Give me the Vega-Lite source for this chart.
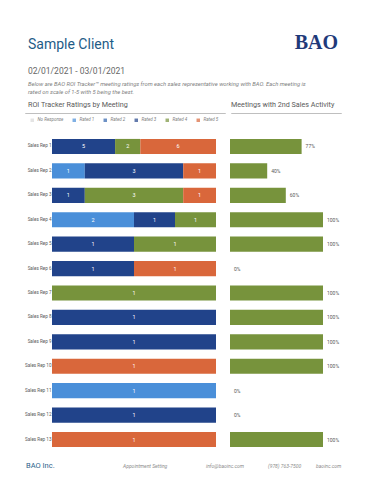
{
  "$schema": "https://vega.github.io/schema/vega-lite/v6.json",
  "background": "white",
  "padding": {"left": 24, "top": 32, "right": 10, "bottom": 2},
  "config": {
    "font": "Roboto",
    "view": {"stroke": null},
    "title": {"fontWeight": "normal", "anchor": "start", "frame": "group"}
  },
  "datasets": {
    "ratings": [
      {"rep": "Sales Rep 1", "rating": "Rated 3", "count": 5},
      {"rep": "Sales Rep 1", "rating": "Rated 4", "count": 2},
      {"rep": "Sales Rep 1", "rating": "Rated 5", "count": 6},
      {"rep": "Sales Rep 2", "rating": "Rated 1", "count": 1},
      {"rep": "Sales Rep 2", "rating": "Rated 3", "count": 3},
      {"rep": "Sales Rep 2", "rating": "Rated 5", "count": 1},
      {"rep": "Sales Rep 3", "rating": "Rated 3", "count": 1},
      {"rep": "Sales Rep 3", "rating": "Rated 4", "count": 3},
      {"rep": "Sales Rep 3", "rating": "Rated 5", "count": 1},
      {"rep": "Sales Rep 4", "rating": "Rated 1", "count": 2},
      {"rep": "Sales Rep 4", "rating": "Rated 3", "count": 1},
      {"rep": "Sales Rep 4", "rating": "Rated 4", "count": 1},
      {"rep": "Sales Rep 5", "rating": "Rated 3", "count": 1},
      {"rep": "Sales Rep 5", "rating": "Rated 4", "count": 1},
      {"rep": "Sales Rep 6", "rating": "Rated 3", "count": 1},
      {"rep": "Sales Rep 6", "rating": "Rated 5", "count": 1},
      {"rep": "Sales Rep 7", "rating": "Rated 4", "count": 1},
      {"rep": "Sales Rep 8", "rating": "Rated 3", "count": 1},
      {"rep": "Sales Rep 9", "rating": "Rated 3", "count": 1},
      {"rep": "Sales Rep 10", "rating": "Rated 5", "count": 1},
      {"rep": "Sales Rep 11", "rating": "Rated 1", "count": 1},
      {"rep": "Sales Rep 12", "rating": "Rated 3", "count": 1},
      {"rep": "Sales Rep 13", "rating": "Rated 5", "count": 1}
    ],
    "activity": [
      {"rep": "Sales Rep 1", "pct": 0.77},
      {"rep": "Sales Rep 2", "pct": 0.40},
      {"rep": "Sales Rep 3", "pct": 0.60},
      {"rep": "Sales Rep 4", "pct": 1.0},
      {"rep": "Sales Rep 5", "pct": 1.0},
      {"rep": "Sales Rep 6", "pct": 0.0},
      {"rep": "Sales Rep 7", "pct": 1.0},
      {"rep": "Sales Rep 8", "pct": 1.0},
      {"rep": "Sales Rep 9", "pct": 1.0},
      {"rep": "Sales Rep 10", "pct": 1.0},
      {"rep": "Sales Rep 11", "pct": 0.0},
      {"rep": "Sales Rep 12", "pct": 0.0},
      {"rep": "Sales Rep 13", "pct": 1.0}
    ]
  },
  "spacing": 0,
  "resolve": {"scale": {"color": "independent"}, "legend": {"color": "independent"}},
  "vconcat": [
    {
      "spacing": 3,
      "hconcat": [
        {
          "width": 260, "height": 0.01,
          "data": {"values": []},
          "mark": "text",
          "title": {
            "text": "Sample Client",
            "subtitle": "02/01/2021 - 03/01/2021",
            "fontSize": 14, "color": "#1f5c87", "dx": 3,
            "subtitleFontSize": 8.5, "subtitleColor": "#666666", "subtitlePadding": 15,
            "offset": 4.5
          }
        },
        {
          "width": 50, "height": 0.01,
          "data": {"values": []},
          "mark": "text",
          "title": {
            "text": "BAO", "anchor": "end", "offset": 27.1,
            "font": "Liberation Serif", "fontWeight": "bold", "fontSize": 20, "color": "#1f3a7a"
          }
        }
      ]
    },
    {
      "width": 314, "height": 0.01,
      "data": {"values": []},
      "mark": "text",
      "title": {
        "text": [
          "Below are BAO ROI Tracker\u2122 meeting ratings from each sales representative working with BAO. Each meeting is",
          "rated on scale of 1-5 with 5 being the best."
        ],
        "fontSize": 5.8, "fontStyle": "italic", "color": "#808080", "lineHeight": 8, "dx": 3, "offset": 4.0
      }
    },
    {
      "spacing": 4,
      "resolve": {"scale": {"color": "independent"}, "legend": {"color": "independent"}},
      "hconcat": [
        {
          "width": 200, "height": 0.01,
          "view": {"stroke": "#bfbfbf"},
          "data": {"values": []},
          "mark": "square",
          "encoding": {
            "color": {
              "field": "rating", "type": "nominal",
              "scale": {
                "domain": ["No Response", "Rated 1", "Rated 2", "Rated 3", "Rated 4", "Rated 5"],
                "range": ["#d9d9d9", "#4a8fd9", "#2f63ad", "#21438a", "#77933c", "#d9673b"]
              },
              "legend": {
                "orient": "bottom", "direction": "horizontal", "title": null,
                "symbolType": "square", "symbolSize": 12, "symbolStrokeWidth": 0,
                "labelFontSize": 4.5, "labelFontStyle": "italic", "labelColor": "#808080",
                "labelOffset": 3, "columnPadding": 8, "padding": 5, "offset": -1
              }
            }
          },
          "title": {"text": "ROI Tracker Ratings by Meeting", "fontSize": 7.2, "color": "#595959", "dx": 3, "offset": 4.9}
        },
        {
          "width": 110, "height": 0.01,
          "view": {"stroke": "#bfbfbf"},
          "data": {"values": []},
          "mark": "text",
          "title": {"text": "Meetings with 2nd Sales Activity", "fontSize": 7.2, "color": "#595959", "offset": 4.9}
        }
      ]
    },
    {
      "spacing": 14,
      "hconcat": [
        {
          "width": 191, "height": 330,
          "data": {"name": "ratings"},
          "transform": [
            {"stack": "count", "groupby": ["rep"], "sort": [{"field": "rating", "order": "ascending"}], "offset": "normalize", "as": ["x0", "x1"]}
          ],
          "encoding": {
            "y": {
              "field": "rep", "type": "nominal",
              "sort": ["Sales Rep 1", "Sales Rep 2", "Sales Rep 3", "Sales Rep 4", "Sales Rep 5", "Sales Rep 6", "Sales Rep 7", "Sales Rep 8", "Sales Rep 9", "Sales Rep 10", "Sales Rep 11", "Sales Rep 12", "Sales Rep 13"],
              "scale": {"paddingInner": 0.38, "paddingOuter": 0.447},
              "axis": {"title": null, "domain": false, "ticks": false, "labelFontSize": 4.6, "labelColor": "#595959", "labelPadding": -26}
            }
          },
          "layer": [
            {
              "mark": {"type": "bar"},
              "encoding": {
                "x": {"field": "x0", "type": "quantitative", "axis": null, "scale": {"domain": [0, 1], "range": [27, 191]}},
                "x2": {"field": "x1"},
                "color": {
                  "field": "rating", "type": "nominal",
                  "scale": {
                    "domain": ["No Response", "Rated 1", "Rated 2", "Rated 3", "Rated 4", "Rated 5"],
                    "range": ["#d9d9d9", "#4a8fd9", "#2f63ad", "#21438a", "#77933c", "#d9673b"]
                  },
                  "legend": null
                }
              }
            },
            {
              "transform": [{"fold": ["x0", "x1"], "as": ["edge", "xpos"]}],
              "mark": {"type": "text", "color": "white", "fontSize": 5.5},
              "encoding": {
                "x": {"field": "xpos", "aggregate": "mean", "type": "quantitative", "axis": null, "scale": {"domain": [0, 1], "range": [27, 191]}},
                "detail": {"field": "rating", "type": "nominal"},
                "text": {"field": "count", "type": "quantitative"}
              }
            }
          ]
        },
        {
          "width": 93, "height": 330,
          "data": {"name": "activity"},
          "encoding": {
            "y": {
              "field": "rep", "type": "nominal",
              "sort": ["Sales Rep 1", "Sales Rep 2", "Sales Rep 3", "Sales Rep 4", "Sales Rep 5", "Sales Rep 6", "Sales Rep 7", "Sales Rep 8", "Sales Rep 9", "Sales Rep 10", "Sales Rep 11", "Sales Rep 12", "Sales Rep 13"],
              "scale": {"paddingInner": 0.38, "paddingOuter": 0.447},
              "axis": null
            },
            "x": {"field": "pct", "type": "quantitative", "axis": null, "scale": {"domain": [0, 1]}}
          },
          "layer": [
            {"mark": {"type": "bar", "color": "#77933c"}},
            {
              "mark": {"type": "text", "align": "left", "dx": 4, "fontSize": 5, "color": "#595959"},
              "encoding": {"text": {"field": "pct", "type": "quantitative", "format": ".0%"}}
            }
          ]
        }
      ]
    },
    {
      "spacing": 0,
      "hconcat": [
        {"width": 98, "height": 0.01, "data": {"values": []}, "mark": "text",
         "title": {"text": "BAO Inc.", "orient": "bottom", "offset": 3.5, "dx": 1, "fontSize": 7.5, "color": "#2d5f8a"}},
        {"width": 83, "height": 0.01, "data": {"values": []}, "mark": "text",
         "title": {"text": "Appointment Setting", "orient": "bottom", "offset": 5.5, "fontSize": 5, "fontStyle": "italic", "color": "#8c8c8c"}},
        {"width": 62, "height": 0.01, "data": {"values": []}, "mark": "text",
         "title": {"text": "info@baoinc.com", "orient": "bottom", "offset": 5.5, "fontSize": 5, "fontStyle": "italic", "color": "#8c8c8c"}},
        {"width": 48, "height": 0.01, "data": {"values": []}, "mark": "text",
         "title": {"text": "(978) 763-7500", "orient": "bottom", "offset": 5.5, "fontSize": 5, "fontStyle": "italic", "color": "#8c8c8c"}},
        {"width": 30, "height": 0.01, "data": {"values": []}, "mark": "text",
         "title": {"text": "baoinc.com", "orient": "bottom", "offset": 5.5, "fontSize": 5, "fontStyle": "italic", "color": "#8c8c8c"}}
      ]
    }
  ]
}
